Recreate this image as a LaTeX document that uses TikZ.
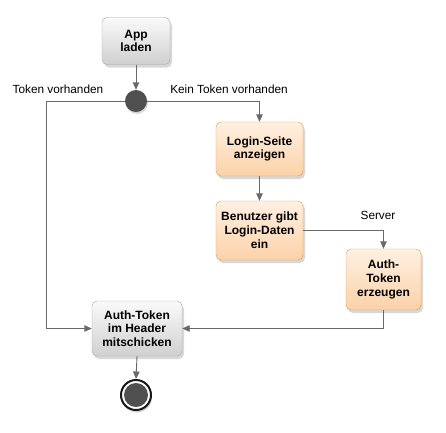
\documentclass[tikz,border=0pt]{standalone}
\usepackage{fontspec}
\setmainfont{Liberation Sans}
\usetikzlibrary{shadows,arrows.meta,calc}
\definecolor{lineg}{HTML}{6A6A6A}
\definecolor{greytop}{HTML}{FAFAFA}
\definecolor{greybot}{HTML}{D0D0D0}
\definecolor{greyborder}{HTML}{A8A8A8}
\definecolor{oratop}{HTML}{FFF0E2}
\definecolor{orabot}{HTML}{FBD2A8}
\definecolor{oraborder}{HTML}{E09A45}
\definecolor{dotfill}{HTML}{505050}
\tikzset{
  box/.style={rectangle, rounded corners=5pt, align=center,
    font=\fontsize{12}{13.8}\selectfont\bfseries, inner sep=2pt,
    drop shadow={shadow xshift=2pt, shadow yshift=-3pt, opacity=0.3}},
  greybox/.style={box, draw=greyborder, top color=greytop, bottom color=greybot},
  orabox/.style={box, draw=oraborder, top color=oratop, bottom color=orabot},
  conn/.style={draw=lineg, line width=0.9pt, -{Triangle[width=6.5pt,length=7.5pt]}},
  lbl/.style={font=\fontsize{11.8}{13.5}\selectfont, inner sep=0pt}
}
\begin{document}
\begin{tikzpicture}[x=1pt,y=-1pt]
\useasboundingbox (0,0) rectangle (446,432);
\fill[white] (0,0) rectangle (446,432);
\node[greybox, minimum width=68pt, minimum height=47pt] (app) at (136,41) {App\\laden};
\node[circle, fill=dotfill, minimum size=22pt, inner sep=0pt,
  drop shadow={shadow xshift=1pt, shadow yshift=-2pt, opacity=0.3}] (dec) at (136,101) {};
\node[orabox, minimum width=87pt, minimum height=54pt] (login) at (259.5,149) {Login-Seite\\anzeigen};
\node[orabox, minimum width=87pt, minimum height=59pt] (ben) at (259.5,230.5) {Benutzer gibt\\Login-Daten\\ein};
\node[orabox, minimum width=75pt, minimum height=61pt] (erz) at (383.5,279.5) {Auth-\\Token\\erzeugen};
\node[greybox, minimum width=90pt, minimum height=55pt] (head) at (137,328.5) {Auth-Token\\im Header\\mitschicken};
\node[circle, draw=black!90, line width=2pt, fill=white, minimum size=30pt, inner sep=0pt,
  drop shadow={shadow xshift=1pt, shadow yshift=-2.5pt, opacity=0.35},
  path picture={\fill[dotfill] (path picture bounding box.center) circle (12pt);}] (end) at (136,395) {};
\coordinate (lc) at (46,101);
\node[lbl] (l1) at (58,89) {Token vorhanden};
\node[lbl] (l2) at (229,89) {Kein Token vorhanden};
\node[lbl] (l3) at (378,215) {Server};
\draw[conn] (app.south) -- (dec.north);
\draw[conn] (dec.west) -- (lc) |- (head.west);
\draw[conn] (dec.east) -| (login.north);
\draw[conn] (login.south) -- (ben.north);
\draw[conn] (ben.east) -| (erz.north);
\draw[conn] (erz.south) |- (head.east);
\draw[conn] (head.south) -- (end.north);
\end{tikzpicture}
\end{document}
